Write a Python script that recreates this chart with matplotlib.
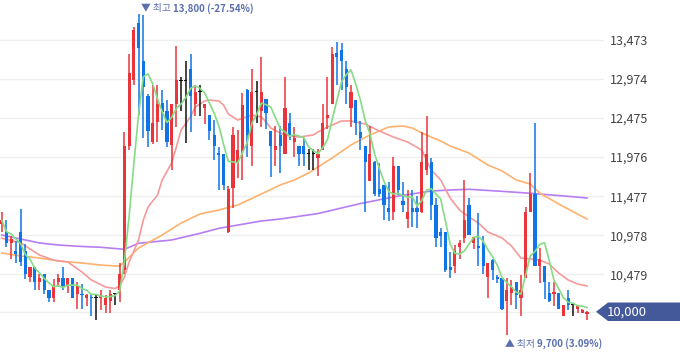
import matplotlib
matplotlib.use("Agg")
import matplotlib.pyplot as plt
from matplotlib.patches import Polygon
from matplotlib.transforms import blended_transform_factory
import numpy as np
import pandas as pd

plt.rcParams['font.family'] = ['Noto Sans CJK KR', 'DejaVu Sans']

# daily candles (won)
opens = [11120, 11020, 10880, 10780, 11020, 10780, 10440, 10570, 10380, 10480,
         10280, 10180, 10380, 10430, 10330, 10430, 10230, 10230, 10180, 10190,
         10180, 10180, 10090, 10140, 10230, 10280, 10530, 12120, 12960, 13690,
         13200, 12760, 12170, 12420, 12670, 12570, 12130, 12650, 12950, 12950,
         13100, 12650, 12810, 12610, 12510, 12260, 12030, 12020, 11020, 11580,
         11910, 12050, 12840, 12120, 12810, 12570, 12720, 12310, 12070, 12260,
         12020, 12410, 12170, 12120, 12120, 12020, 12020, 11970, 12070, 12470,
         12660, 13310, 13350, 13100, 12610, 12710, 12300, 12120, 11670, 11920,
         11570, 11620, 11320, 11280, 11860, 11410, 11180, 11320, 11330, 11280,
         11810, 11910, 11360, 11020, 11020, 10570, 10580, 10830, 10940, 11360,
         10880, 10830, 10880, 10450, 10660, 10440, 10430, 10140, 10240, 10380,
         10180, 10430, 11270, 11510, 10580, 10580, 10240, 10230, 10240, 9950,
         10170, 10080, 10030, 9990, 9970]
highs = [11270, 11170, 10970, 10900, 11310, 10870, 10570, 10570, 10480, 10480,
         10280, 10420, 10480, 10570, 10430, 10430, 10380, 10360, 10230, 10230,
         10230, 10280, 10210, 10280, 10240, 10620, 12300, 13300, 13640, 13800,
         13790, 12780, 12900, 12900, 12830, 12710, 12650, 13400, 13000, 13200,
         13300, 12900, 12900, 12650, 12510, 12450, 12110, 12020, 11610, 12360,
         12320, 12800, 12850, 13100, 12950, 13250, 12720, 12310, 12370, 12370,
         13000, 12540, 12360, 12120, 12220, 12080, 12080, 12080, 12650, 13000,
         13380, 13450, 13440, 13200, 12900, 12710, 12440, 12120, 12370, 11930,
         11900, 11620, 11660, 11980, 11860, 11660, 11560, 11560, 11480, 12300,
         12500, 11960, 11450, 11070, 11020, 10760, 10850, 10920, 11680, 11460,
         10960, 11260, 10970, 10620, 10670, 10470, 10430, 10430, 10410, 10380,
         10470, 11340, 11770, 12410, 10810, 10580, 10380, 10380, 10240, 10090,
         10280, 10080, 10080, 10030, 10010]
lows = [11020, 10830, 10670, 10620, 10580, 10420, 10380, 10280, 10280, 10230,
        10130, 10120, 10320, 10280, 10240, 10170, 10030, 10040, 10070, 9950,
        9890, 10020, 9990, 9980, 10080, 10130, 10480, 12070, 12900, 12510,
        12220, 12110, 12150, 12170, 12320, 12110, 11810, 12360, 12560, 12160,
        12300, 12500, 12500, 12400, 12200, 11940, 11560, 11560, 11010, 11330,
        11710, 11680, 11980, 11860, 12410, 12360, 12340, 11720, 11860, 11770,
        12020, 12200, 11980, 11860, 11860, 11810, 11810, 11730, 12070, 12340,
        12650, 12900, 12830, 12650, 12360, 12260, 12070, 11270, 11670, 11480,
        11470, 11170, 11160, 11170, 11490, 11280, 11070, 11080, 11070, 11260,
        11750, 11170, 10830, 10830, 10510, 10430, 10490, 10670, 10880, 10980,
        10800, 10580, 10480, 10180, 10410, 10370, 10020, 9700, 10090, 10040,
        9940, 10430, 11270, 10580, 10370, 10160, 10130, 10070, 10030, 9940,
        10020, 9950, 9980, 9980, 9900]
closes = [11170, 10880, 10930, 10740, 10630, 10480, 10570, 10380, 10430, 10280,
          10180, 10330, 10430, 10330, 10430, 10180, 10330, 10210, 10220, 10170,
          10180, 10220, 10170, 10230, 10230, 10480, 12120, 13050, 13600, 13370,
          12870, 12310, 12410, 12650, 12550, 12170, 12650, 12960, 12950, 12950,
          12760, 12810, 12810, 12650, 12310, 12120, 12000, 11620, 11570, 12260,
          12070, 12640, 12260, 12810, 12810, 12810, 12540, 12120, 12120, 12120,
          12600, 12260, 12220, 12020, 12020, 12020, 12020, 12020, 12410, 12510,
          13300, 13260, 13210, 12870, 12810, 12410, 12220, 11920, 12020, 11510,
          11510, 11360, 11280, 11860, 11560, 11360, 11270, 11280, 11280, 11920,
          12020, 11360, 10940, 10970, 10530, 10530, 10770, 10880, 11170, 10980,
          10960, 10820, 10580, 10620, 10530, 10420, 10030, 10280, 10320, 10210,
          10280, 11270, 11510, 10580, 10670, 10380, 10140, 10250, 10040, 10090,
          10090, 10080, 10080, 10020, 10000]

# longer moving averages (candle index, won)
ma20_idx = [0, 4, 8, 11, 14, 17, 19, 22, 24, 25, 26, 27, 29, 30, 31, 33, 34, 36, 37, 38,
            40, 41, 43, 44, 46, 47, 48, 50, 53, 55, 56, 57, 59, 60, 63, 66, 67, 69, 72, 74,
            77, 80, 83, 86, 89, 90, 91, 93, 95, 97, 99, 101, 103, 106, 108, 110, 112, 114,
            116, 118, 120, 122, 124]
ma20_val = [10940, 10880, 10725, 10660, 10636, 10508, 10406, 10316, 10297, 10329, 10444,
            10636, 10917, 11172, 11338, 11492, 11684, 11901, 12105, 12323, 12489, 12617,
            12693, 12706, 12693, 12642, 12527, 12450, 12514, 12489, 12425, 12348, 12284,
            12259, 12233, 12259, 12297, 12361, 12438, 12438, 12399, 12310, 12233, 12169,
            12067, 11939, 11811, 11684, 11454, 11300, 11211, 11134, 11019, 10943, 10840,
            10687, 10674, 10661, 10610, 10495, 10406, 10355, 10329]
ma60_idx = [0, 4, 8, 12, 17, 21, 24, 25, 26, 29, 34, 38, 42, 46, 50, 55, 59, 62, 65, 70,
            74, 78, 82, 85, 87, 89, 93, 95, 99, 103, 106, 109, 112, 114, 118, 124]
ma60_val = [10751, 10712, 10687, 10648, 10623, 10597, 10585, 10585, 10636, 10815, 10981,
            11134, 11249, 11300, 11364, 11505, 11620, 11684, 11773, 11965, 12131, 12259,
            12361, 12374, 12348, 12284, 12182, 12118, 12028, 11875, 11799, 11684, 11632,
            11517, 11377, 11185]
ma120_idx = [0, 4, 8, 12, 17, 21, 26, 29, 36, 42, 46, 55, 59, 67, 76, 84, 91, 95, 99,
             106, 112, 118, 124]
ma120_val = [10981, 10930, 10879, 10853, 10834, 10824, 10798, 10875, 10917, 11002, 11066,
             11160, 11185, 11255, 11383, 11479, 11543, 11556, 11565, 11539, 11514, 11485,
             11454]

ticks = [10000, 10479, 10978, 11477, 11976, 12475, 12974, 13473]
tick_labels = ['', '10,479', '10,978', '11,477', '11,976', '12,475', '12,974', '13,473']

UP = '#e8343a'
DOWN = '#0f74e6'
FLAT = '#111111'
MARK = '#5a6fae'

o = np.array(opens)
h = np.array(highs)
l = np.array(lows)
c = np.array(closes)
x = np.arange(len(c))
colors = np.where(c > o, UP, np.where(c < o, DOWN, FLAT))

fig = plt.figure(figsize=(6.8, 3.58), dpi=100)
ax = fig.add_axes([0, 0, 604 / 680, 1])

for t in ticks:
    ax.axhline(t, color='#efefef', lw=1, zorder=0)

ma5 = pd.Series(c).rolling(5, min_periods=1).mean()
ax.plot(ma120_idx, ma120_val, color='#b77ef2', lw=1.2, zorder=1)
ax.plot(ma60_idx, ma60_val, color='#ffb26e', lw=1.2, zorder=1)
ax.plot(ma20_idx, ma20_val, color='#f59a9a', lw=1.2, zorder=1)

ax.vlines(x, l, h, colors=colors, lw=1.1, zorder=2)
body_lo = np.minimum(o, c)
body_h = np.maximum(np.abs(c - o), 14)
ax.bar(x, body_h, bottom=body_lo, width=0.68, color=colors, lw=0, zorder=3)

ax.plot(x, ma5, color='#85dc85', lw=1.2, zorder=4)

ax.set_xlim(-0.36, 127.6)
ax.set_ylim(9409, 13984)
ax.yaxis.tick_right()
ax.set_yticks(ticks)
ax.set_yticklabels(tick_labels)
ax.tick_params(axis='y', length=0, pad=4, labelsize=9, labelcolor='#444444')
ax.set_xticks([])
for s in ax.spines.values():
    s.set_visible(False)

# high / low markers
last = closes[-1]
hi_i = int(np.argmax(h))
lo_i = int(np.argmin(l))
hi, lo = h[hi_i], l[lo_i]
kw = dict(textcoords='offset points', va='center', ha='left', color=MARK,
          annotation_clip=False)
ax.annotate('▼ 최고', xy=(hi_i, hi), xytext=(2, 4.6), fontsize=7, **kw)
ax.annotate('{:,} ({:.2f}%)'.format(hi, (last - hi) / hi * 100), xy=(hi_i, hi),
            xytext=(25, 4.6), fontsize=7, fontweight='bold', **kw)
ax.annotate('▲ 최저', xy=(lo_i, lo), xytext=(-1.2, -6.3), fontsize=7, **kw)
ax.annotate('{:,} ({:.2f}%)'.format(lo, (last - lo) / lo * 100), xy=(lo_i, lo),
            xytext=(22, -6.3), fontsize=7, fontweight='bold', **kw)

# current price tag
tr = blended_transform_factory(fig.transFigure, ax.transData)
half = 118
tag = Polygon([(596 / 680, last), (608 / 680, last + half), (1.0, last + half),
               (1.0, last - half), (608 / 680, last - half)],
              closed=True, transform=tr, fc='#44599a', ec='none', clip_on=False)
fig.patches.append(tag)
fig.text(607 / 680, last, '{:,}'.format(last), transform=tr, color='white',
         fontsize=9.5, va='center', ha='left')

fig.savefig('out.png', dpi=100)
